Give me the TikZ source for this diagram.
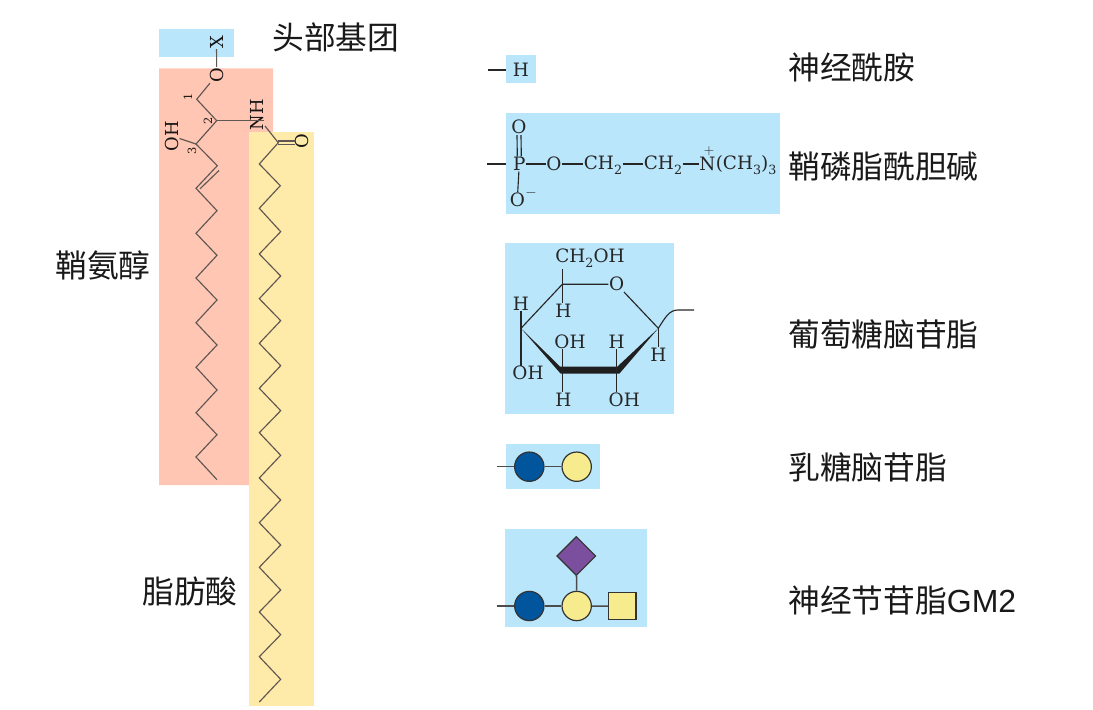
\documentclass[tikz,border=0pt]{standalone}
\usepackage{fontspec}
\newfontfamily\cjk{Noto Sans CJK SC}
\newfontfamily\gmfont{Liberation Sans}
\newfontfamily\chemfont{DejaVu Serif}
\newcommand{\sbs}[1]{\raisebox{-0.28em}{\fontsize{9.5}{10}\selectfont #1}}
\usetikzlibrary{calc}
\definecolor{hgblue}{HTML}{BAE6FB}
\definecolor{salmonbg}{HTML}{FFC6B4}
\definecolor{fattybg}{HTML}{FEEBA9}
\definecolor{glcblue}{HTML}{00559C}
\definecolor{galyellow}{HTML}{F6EC8E}
\definecolor{neupurple}{HTML}{7B4F9D}
\definecolor{chainc}{HTML}{5F5552}
\tikzset{
  label cn/.style={font=\cjk\fontsize{23.8}{28}\selectfont,text=black!90,anchor=west,inner sep=0pt},
  atom/.style={font=\chemfont\fontsize{13.8}{16}\selectfont,text=black!85,inner sep=0.4pt},
  atomrot/.style={font=\chemfont\fontsize{13.4}{16}\selectfont,text=black!75!chainc,inner sep=0.4pt,rotate=90},
  locant/.style={font=\chemfont\fontsize{8.5}{10}\selectfont,text=black!75!chainc,inner sep=0pt,rotate=90},
  bond/.style={draw=black!85,line width=0.85pt},
  chain/.style={draw=chainc,line width=0.85pt,line join=miter},
  glycobond/.style={draw=black!70,line width=1.15pt},
  sugar/.style={draw=black!80,line width=0.9pt,inner sep=0pt},
  glc/.style={sugar,circle,fill=glcblue,minimum size=22pt},
  gal/.style={sugar,circle,fill=galyellow,minimum size=22pt},
  galnac/.style={sugar,rectangle,fill=galyellow,minimum size=20.5pt},
  neu/.style={sugar,fill=neupurple}
}
\begin{document}
\begin{tikzpicture}[x=0.75pt,y=-0.75pt]
\useasboundingbox (0,0) rectangle (1093,710);
% background regions
\fill[hgblue] (159,29.3) rectangle (234,56.7);
\fill[salmonbg] (159,68.3) -- (273,68.3) -- (273,132.3) -- (249,132.3) -- (249,485) -- (159,485) -- cycle;
\fill[fattybg] (249,132.3) rectangle (314.3,705.7);
\fill[hgblue] (505.7,55) rectangle (535.7,83.3);
\fill[hgblue] (505.7,113.3) rectangle (780,214);
\fill[hgblue] (505,243.3) rectangle (674,414);
\fill[hgblue] (505.7,444) rectangle (600,489.3);
\fill[hgblue] (505.3,528.7) rectangle (647.3,627);
% left structure
\node[atomrot] (x) at (216.5,42) {X};
\node[atomrot] (o3) at (216.7,75) {O};
\coordinate (c1) at (196.7,99.3);
\coordinate (c2) at (216.7,120.7);
\coordinate (c3) at (196,144);
\coordinate (c4) at (217.3,165.7);
\coordinate (c5) at (196,188.3);
\node[atomrot] (nh) at (257,115) {NH};
\node[atomrot] (oh) at (172,136) {OH};
\node[locant] at (188,97) {1};
\node[locant] at (208,121) {2};
\node[locant] at (192,151) {3};
\draw[chain] (x) -- (o3);
\draw[chain] (o3) -- (c1) -- (c2) -- (c3) -- (c4) -- (c5) -- (217,210.7) -- (196,233.3) -- (217,255.3) -- (196,278) -- (217,300) -- (196,322.7) -- (217,345) -- (196,367.3) -- (217,390) -- (196,412.7) -- (217,434.7) -- (196,457) -- (217,479.7);
\draw[chain] (c2) -- (nh.south |- c2);
\draw[chain] (oh) -- (c3);
\draw[chain] (219,170.5) -- (200,188.8);
% fatty acid
\coordinate (cco) at (278.3,142.7);
\node[atomrot] (o4) at (302,141) {O};
\draw[chain] (265,126) -- (cco) -- (259.3,164) -- (280.3,185.7) -- (259.3,208.3) -- (280.7,231.7) -- (259.3,254) -- (280.7,276) -- (259.3,298.7) -- (280.7,320.7) -- (259.3,343.3) -- (280.7,365.7) -- (259.3,388.3) -- (280.7,410.7) -- (259.3,432.7) -- (280.7,455.3) -- (259.3,478) -- (280.7,500) -- (259.3,522.7) -- (280.7,545) -- (259.3,567.3) -- (280.7,590) -- (259.3,612) -- (280.7,634.7) -- (259.3,656.7) -- (280.7,679.3) -- (259.3,702);
\draw[chain] (278.3,141) -- (295,141);
\draw[chain] (278.3,144.3) -- (295,144.3);
% H
\node[atom] (hh) at (521,70) {H};
\coordinate (hfree) at (488,70);
\draw[bond] (hfree) -- (505.7,70);
% phosphocholine
\node[atom] (pp) at (519.3,164) {P};
\node[atom] (po1) at (519,127.3) {O};
\node[atom] (po2) at (517.3,200) {O};
\node[font=\fontsize{11}{12}\selectfont,inner sep=0pt,text=black!85] (minus) at (531,193) {$-$};
\node[atom] (po3) at (554,164) {O};
\node[atom] (ch1) at (603,165.5) {CH\sbs{2}};
\node[atom] (ch2) at (663,165.5) {CH\sbs{2}};
\node[atom] (nn) at (707.5,164) {N};
\node[font=\fontsize{10}{10}\selectfont,inner sep=0pt,text=black!85] (plus) at (709,151) {$+$};
\node[atom,anchor=west,inner sep=0pt] (me) at (715.5,165.5) {(CH\sbs{3})\sbs{3}};
\coordinate (pfree) at (487.3,164);
\draw[bond] (pfree) -- (505.7,164);
\draw[bond] ([xshift=-1.5pt]pp.north) -- ([xshift=-1.5pt]po1.south);
\draw[bond] ([xshift=1.5pt]pp.north) -- ([xshift=1.5pt]po1.south);
\draw[bond] (pp) -- (po2);
\draw[bond] (pp) -- (po3);
\draw[bond] (po3) -- (ch1.west |- po3);
\draw[bond] (ch1.east |- po3) -- (ch2.west |- po3);
\draw[bond] (ch2.east |- po3) -- (nn);
% glucose
\coordinate (g5) at (562.3,284.3);
\node[atom] (go) at (616.7,284.3) {O};
\coordinate (g1) at (658.3,328.3);
\coordinate (g2) at (616.7,370);
\coordinate (g3) at (562.3,370);
\coordinate (g4) at (521,328.3);
\node[atom] (gch) at (590,258.3) {CH\sbs{2}OH};
\node[atom] (gh4) at (521,303.3) {H};
\node[atom] (goh4) at (528,373.3) {OH};
\node[atom] (gh5) at (563.3,311) {H};
\node[atom] (goh3) at (570,341.7) {OH};
\node[atom] (gh3) at (563.3,400) {H};
\node[atom] (gh2) at (616.7,341.7) {H};
\node[atom] (goh2) at (624.3,400) {OH};
\node[atom] (gh1) at (658.3,355) {H};
\coordinate (gfree) at (694,310);
\fill[black!88] (g4) -- (560,366.5) -- (617.5,366.5) -- (g1) -- (619.5,373.5) -- (560.5,373.5) -- cycle;
\draw[bond] (g4) -- (g5) -- (go) -- (g1);
\draw[bond] (g5) -- (g5 |- gch.south);
\draw[bond] (g5) -- (g5 |- gh5.north);
\draw[bond] (g4) -- (gh4);
\draw[bond] (g4) -- (g4 |- goh4.north);
\draw[bond] (g3) -- (g3 |- goh3.south);
\draw[bond] (g3) -- (g3 |- gh3.north);
\draw[bond] (g2) -- (gh2);
\draw[bond] (g2) -- (g2 |- goh2.north);
\draw[bond] (g1) -- (gh1);
\draw[bond] (g1) .. controls (665,318) and (669,310) .. (678,310) -- (gfree);
% lactosyl
\node[glc] (l1) at (529.3,466.7) {};
\node[gal] (l2) at (576.7,466.7) {};
\coordinate (lfree) at (496.7,466.7);
\draw[glycobond] (lfree) -- (l1);
\draw[glycobond] (l1) -- (l2);
% GM2
\node[glc] (m1) at (529.3,606) {};
\node[gal] (m2) at (576.7,606) {};
\node[galnac] (m3) at (622.3,606.2) {};
\coordinate (mfree) at (496.7,606);
\path[neu] (576.3,536.7) -- (595.6,556) -- (576.3,575.3) -- (557,556) -- cycle;
\coordinate (m4) at (576.5,575.3);
\draw[glycobond] (mfree) -- (m1);
\draw[glycobond] (m1) -- (m2);
\draw[glycobond] (m2) -- (m3);
\draw[glycobond] (m2) -- (m4);
% labels
\node[label cn] (t1) at (272,37) {头部基团};
\node[label cn] (t2) at (55,265) {鞘氨醇};
\node[label cn] (t3) at (142,591) {脂肪酸};
\node[label cn] (t4) at (788,67) {神经酰胺};
\node[label cn] (t5) at (788,167) {鞘磷脂酰胆碱};
\node[label cn] (t6) at (788,334) {葡萄糖脑苷脂};
\node[label cn] (t7) at (788,467) {乳糖脑苷脂};
\node[label cn] (t8) at (788,600) {神经节苷脂{\gmfont\fontsize{24}{28}\selectfont GM2}};
\end{tikzpicture}
\end{document}
